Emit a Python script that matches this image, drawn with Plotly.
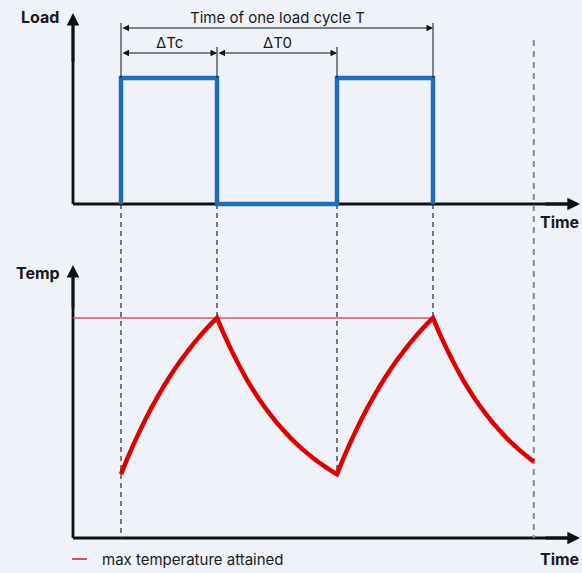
import plotly.graph_objects as go

# ---------------- data ----------------
load_t = [2, 2, 6, 6, 11, 11, 15, 15]
load_v = [0, 1, 1, 0, 0, 1, 1, 0]

temp_t = [2, 2.25, 2.5, 2.75, 3, 3.25, 3.5, 3.75, 4, 4.25, 4.5, 4.75, 5, 5.25, 5.5, 5.75, 6,
          6.25, 6.5, 6.75, 7, 7.25, 7.5, 7.75, 8, 8.25, 8.5, 8.75, 9, 9.25, 9.5, 9.75,
          10, 10.25, 10.5, 10.75, 11,
          11.25, 11.5, 11.75, 12, 12.25, 12.5, 12.75, 13, 13.25, 13.5, 13.75, 14,
          14.25, 14.5, 14.75, 15,
          15.25, 15.5, 15.75, 16, 16.25, 16.5, 16.75, 17, 17.25, 17.5, 17.75, 18,
          18.25, 18.5, 18.75, 19, 19.2]
temp_v = [29, 35.7, 42, 47.9, 53.5, 58.8, 63.7, 68.4, 72.8, 76.9, 80.9, 84.5, 88, 91.3, 94.4, 97.3, 100,
          93.6, 87.6, 82, 76.8, 71.9, 67.4, 63.2, 59.3, 55.7, 52.3, 49.2, 46.2, 43.5, 41, 38.6,
          36.4, 34.3, 32.4, 30.6, 29,
          35.7, 42, 47.9, 53.5, 58.8, 63.7, 68.4, 72.8, 76.9, 80.9, 84.5, 88,
          91.3, 94.4, 97.3, 100,
          93.6, 87.6, 82, 76.8, 71.9, 67.4, 63.2, 59.3, 55.7, 52.3, 49.2, 46.2,
          43.5, 41, 38.6, 36.4, 34.6]

event_t = [2, 6, 11, 15]          # load switching instants
end_t = 19.2                      # end of shown window
max_temp = 100

labels = dict(load="Load", temp="Temp", time="Time",
              cycle="Time of one load cycle T", tc="ΔTc", t0="ΔT0",
              legend="max temperature attained")

# ---------------- layout geometry ----------------
W, H = 582, 573
X_ORIGIN_PX, X_UNIT_PX = 73, 24
T_ORIGIN_PX, T_UNIT_PX = 538, 2.2
L_ORIGIN_PX, L_UNIT_PX = 204, 126

x_range = [-X_ORIGIN_PX / X_UNIT_PX, (W - X_ORIGIN_PX) / X_UNIT_PX]
t_range = [-(H - T_ORIGIN_PX) / T_UNIT_PX, T_ORIGIN_PX / T_UNIT_PX]
l_range = [-(H - L_ORIGIN_PX) / L_UNIT_PX, L_ORIGIN_PX / L_UNIT_PX]


def load_to_temp(v):
    px = L_ORIGIN_PX - v * L_UNIT_PX
    return (T_ORIGIN_PX - px) / T_UNIT_PX


def py(px):
    return 1 - px / H


def px_x(px):
    return px / W


BG = "#eff2f8"
BLUE = "#1f6eb9"
RED = "#e00000"
MAXRED = "#d3545f"
BLACK = "#111111"
FONT = "Inter"

fig = go.Figure()
fig.add_trace(go.Scatter(x=load_t, y=load_v, yaxis="y2", mode="lines",
                         line=dict(color=BLUE, width=4.5, simplify=False), showlegend=False,
                         hoverinfo="skip"))
fig.add_trace(go.Scatter(x=temp_t, y=temp_v, yaxis="y", mode="lines",
                         line=dict(color=RED, width=4.5, simplify=False), showlegend=False,
                         hoverinfo="skip"))

shapes = []
AX_W = 2.8
x_tip = (580 - X_ORIGIN_PX) / X_UNIT_PX
load_tip = (L_ORIGIN_PX - 13) / L_UNIT_PX
temp_tip = (T_ORIGIN_PX - 265) / T_UNIT_PX
# axes lines (below traces)
shapes.append(dict(type="line", xref="x", yref="y2", x0=0, x1=x_tip - 0.4, y0=0, y1=0,
                   line=dict(color=BLACK, width=AX_W), layer="below"))
shapes.append(dict(type="line", xref="x", yref="y2", x0=0, x1=0, y0=0, y1=load_tip - 0.08,
                   line=dict(color=BLACK, width=AX_W), layer="below"))
shapes.append(dict(type="line", xref="x", yref="y", x0=0, x1=x_tip - 0.4, y0=0, y1=0,
                   line=dict(color=BLACK, width=AX_W), layer="below"))
shapes.append(dict(type="line", xref="x", yref="y", x0=0, x1=0, y0=0, y1=temp_tip - 4,
                   line=dict(color=BLACK, width=AX_W), layer="below"))
# max temperature line
shapes.append(dict(type="line", xref="x", yref="y", x0=0, x1=event_t[3], y0=max_temp, y1=max_temp,
                   line=dict(color=MAXRED, width=1.6), layer="below"))
# dashed drop lines
top_temp = load_to_temp(0)
ends = [0, temp_v[temp_t.index(event_t[1])], temp_v[temp_t.index(event_t[2])],
        temp_v[temp_t.index(event_t[3])]]
for t, e in zip(event_t, ends):
    shapes.append(dict(type="line", xref="x", yref="y", x0=t, x1=t, y0=top_temp, y1=e,
                       line=dict(color="#333333", width=1.3, dash="5px,4px"), layer="below"))
shapes.append(dict(type="line", xref="x", yref="y", x0=end_t, x1=end_t,
                   y0=load_to_temp((L_ORIGIN_PX - 40) / L_UNIT_PX), y1=0,
                   line=dict(color="#8a8a8a", width=2, dash="6px,5px"), layer="below"))
# dimension extension lines
cyc_y = (L_ORIGIN_PX - 28) / L_UNIT_PX
sub_y = (L_ORIGIN_PX - 53) / L_UNIT_PX
for t in (event_t[0], event_t[3]):
    shapes.append(dict(type="line", xref="x", yref="y2", x0=t, x1=t, y0=1,
                       y1=(L_ORIGIN_PX - 23) / L_UNIT_PX, line=dict(color=BLACK, width=1)))
for t in (event_t[1], event_t[2]):
    shapes.append(dict(type="line", xref="x", yref="y2", x0=t, x1=t, y0=1,
                       y1=(L_ORIGIN_PX - 47) / L_UNIT_PX, line=dict(color=BLACK, width=1)))
# legend swatch
shapes.append(dict(type="line", xref="paper", yref="paper", x0=px_x(72), x1=px_x(87),
                   y0=py(559), y1=py(559), line=dict(color=MAXRED, width=2)))

ann = []


def arrow(x, y, ax, ay, yref, width, size, both=False):
    d = dict(x=x, y=y, ax=ax, ay=ay, xref="x", yref=yref, axref="x", ayref=yref,
             text="", showarrow=True, arrowhead=2, arrowsize=size, arrowwidth=width,
             arrowcolor=BLACK, font=dict(size=1))
    if both:
        d.update(arrowside="end+start", startarrowhead=2, startarrowsize=size)
    ann.append(d)


arrow(x_tip, 0, x_tip - 1.5, 0, "y2", AX_W, 0.9)
arrow(0, load_tip, 0, load_tip - 0.4, "y2", AX_W, 0.9)
arrow(x_tip, 0, x_tip - 1.5, 0, "y", AX_W, 0.9)
arrow(0, temp_tip, 0, temp_tip - 20, "y", AX_W, 0.9)
arrow(event_t[3], cyc_y, event_t[0], cyc_y, "y2", 1, 1.3, both=True)
arrow(event_t[1], sub_y, event_t[0], sub_y, "y2", 1, 1.3, both=True)
arrow(event_t[2], sub_y, event_t[1], sub_y, "y2", 1, 1.3, both=True)


def label(text, x, y, size=15, bold=False, xanchor="center"):
    ann.append(dict(text=f"<b>{text}</b>" if bold else text, x=x, y=y,
                    xref="paper", yref="paper", showarrow=False, xanchor=xanchor,
                    yanchor="middle", font=dict(family=FONT, size=size, color="#1a1a1a")))


label(labels["load"], px_x(40), py(17), 16, True)
label(labels["temp"], px_x(38), py(273), 16, True)
label(labels["time"], px_x(581), py(222), 16, True, "right")
label(labels["time"], px_x(581), py(559), 16, True, "right")
label(labels["legend"], px_x(100), py(559), 15, False, "left")
ann.append(dict(text=labels["cycle"], x=(event_t[0] + event_t[3]) / 2,
                y=(L_ORIGIN_PX - 17) / L_UNIT_PX, xref="x", yref="y2", showarrow=False,
                font=dict(family=FONT, size=15, color="#1a1a1a")))
ann.append(dict(text=labels["tc"], x=(event_t[0] + event_t[1]) / 2,
                y=(L_ORIGIN_PX - 42) / L_UNIT_PX, xref="x", yref="y2", showarrow=False,
                font=dict(family=FONT, size=15, color="#1a1a1a")))
ann.append(dict(text=labels["t0"], x=(event_t[1] + event_t[2]) / 2,
                y=(L_ORIGIN_PX - 42) / L_UNIT_PX, xref="x", yref="y2", showarrow=False,
                font=dict(family=FONT, size=15, color="#1a1a1a")))

fig.update_layout(
    width=W, height=H, autosize=False,
    margin=dict(l=0, r=0, t=0, b=0, pad=0),
    paper_bgcolor=BG, plot_bgcolor=BG,
    showlegend=False,
    xaxis=dict(range=x_range, visible=False, domain=[0, 1], fixedrange=True),
    yaxis=dict(range=t_range, visible=False, domain=[0, 1], fixedrange=True),
    yaxis2=dict(range=l_range, visible=False, overlaying="y", domain=[0, 1], fixedrange=True),
    shapes=shapes, annotations=ann,
    font=dict(family=FONT),
    hovermode=False,
)

fig.write_html("out.html",
               config={"displayModeBar": False, "staticPlot": True},
               post_script="document.body.style.margin='0';"
                           "document.body.style.overflow='hidden';"
                           "document.body.style.background='" + BG + "';")
